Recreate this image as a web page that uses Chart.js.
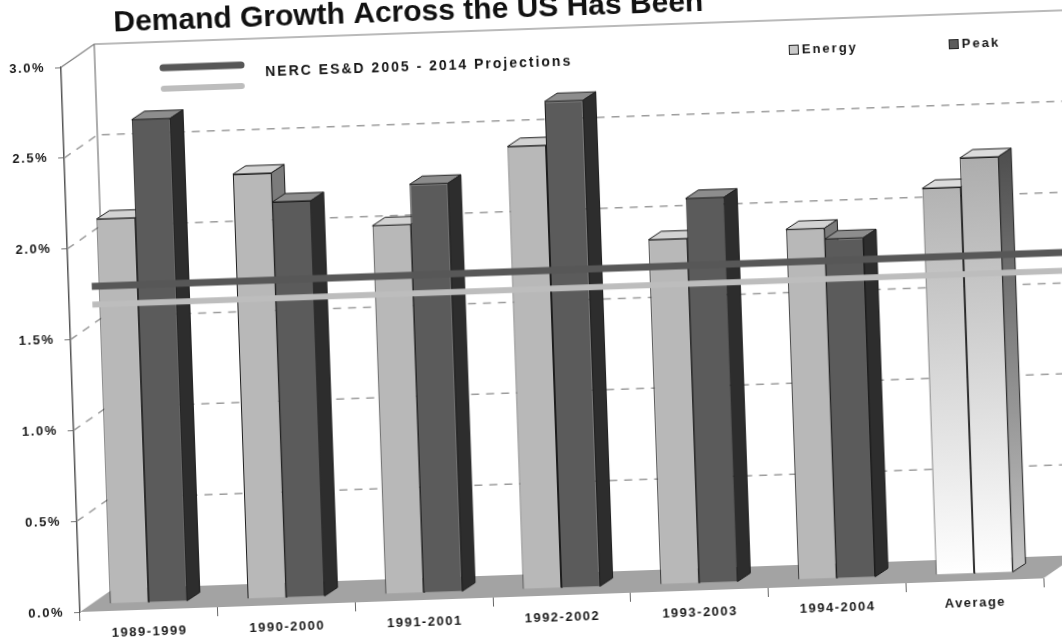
<!DOCTYPE html>
<html>
<head>
<meta charset="utf-8">
<title>Demand Growth</title>
<script src="https://cdn.jsdelivr.net/npm/chart.js@4.4.1/dist/chart.umd.min.js"></script>
<style>
  html, body { margin: 0; padding: 0; background: #fff; overflow: hidden; }
  body { width: 1062px; height: 641px; position: relative; }
  /* the scanned slide is slightly tilted */
  #tilt { position: absolute; left: 0; top: 0; width: 1100px; height: 660px;
          transform: rotate(-2deg); transform-origin: 80px 612px; }
</style>
</head>
<body>
<div id="tilt"><canvas id="chart" width="1100" height="660"></canvas></div>
<script>
const titleText = 'Demand Growth Across the US Has Been';
const projectionLabel = 'NERC ES&D 2005 - 2014 Projections';

const categories = ['1989-1999', '1990-2000', '1991-2001', '1992-2002', '1993-2003', '1994-2004', 'Average'];
const energyGrowth = [2.12, 2.34, 2.03, 2.44, 1.90, 1.93, 2.13];
const peakGrowth   = [2.66, 2.18, 2.25, 2.68, 2.12, 1.87, 2.29];

// projection lines run across the whole plot (x2 axis is 0..1 over the plot width)
const projectionSpan   = [0.024, 1.06];
const peakProjection   = [1.75, 1.75];
const energyProjection = [1.65, 1.65];

const yMin = 0, yMax = 3, yStep = 0.5;

const FONT = '"Liberation Sans", Arial, sans-serif';
const DEPTH_X = 13, DEPTH_Y = -8;   // bar extrusion
const WALL_X = 34, WALL_Y = -22;    // back wall offset
const SINK = 7;                     // bars stand a little behind the front edge

const faces = {
  Energy: { top: '#d3d3d3', side: '#7b7b7b', shift: -1 },
  Peak:   { top: '#8d8d8d', side: '#2d2d2d', shift: 1 }
};

function avgFill(chart, from, to) {
  const area = chart.chartArea;
  if (!area) return from;
  const g = chart.ctx.createLinearGradient(0, area.top + 110, 0, area.bottom);
  g.addColorStop(0, from);
  g.addColorStop(1, to);
  return g;
}

function barFill(solid) {
  return (c) => c.dataIndex === categories.length - 1 ? avgFill(c.chart, '#a9a9a9', '#ffffff') : solid;
}

const spacing = {
  id: 'spacing',
  beforeLayout(chart) { chart.ctx.letterSpacing = '1.5px'; },
  beforeDraw(chart) { chart.ctx.letterSpacing = '1.5px'; }
};

const room = {
  id: 'room',
  beforeDatasetsDraw(chart) {
    const { ctx, chartArea: { left, right, top, bottom }, scales: { y } } = chart;
    ctx.save();
    // floor
    ctx.fillStyle = '#a3a3a3';
    ctx.beginPath();
    ctx.moveTo(left, bottom);
    ctx.lineTo(right, bottom);
    ctx.lineTo(right + WALL_X, bottom + WALL_Y);
    ctx.lineTo(left + WALL_X, bottom + WALL_Y);
    ctx.closePath();
    ctx.fill();

    // dashed grid on the left and back walls
    ctx.strokeStyle = '#9c9c9c';
    ctx.lineWidth = 1.5;
    ctx.setLineDash([8, 7]);
    y.ticks.forEach(t => {
      if (t.value === yMin || t.value === yMax) return;
      const py = y.getPixelForValue(t.value);
      ctx.beginPath();
      ctx.moveTo(left, py);
      ctx.lineTo(left + WALL_X, py + WALL_Y);
      ctx.lineTo(chart.width, py + WALL_Y);
      ctx.stroke();
    });

    // box edges
    ctx.setLineDash([]);
    ctx.strokeStyle = '#777';
    ctx.lineWidth = 1.2;
    ctx.beginPath();
    ctx.moveTo(left, top);
    ctx.lineTo(left + WALL_X, top + WALL_Y);
    ctx.lineTo(chart.width, top + WALL_Y);
    ctx.moveTo(left + WALL_X, top + WALL_Y);
    ctx.lineTo(left + WALL_X, bottom + WALL_Y);
    ctx.stroke();
    ctx.restore();
  }
};

const bars3d = {
  id: 'bars3d',
  beforeDatasetDraw(chart, args) {
    const meta = args.meta;
    let sx = 0;
    if (meta.type === 'bar') {
      // energy sits left of the category centre, peak right of it
      sx = faces[chart.data.datasets[args.index].label].shift * meta.data[0].width / 2;
    }
    chart.ctx.save();
    chart.ctx.translate(sx, -SINK);
  },
  afterDatasetDraw(chart, args) {
    const ctx = chart.ctx;
    const meta = args.meta;
    if (meta.type === 'bar') {
      const f = faces[chart.data.datasets[args.index].label];
      meta.data.forEach((bar, i) => {
        const p = bar.getProps(['x', 'y', 'base', 'width'], true);
        const l = p.x - p.width / 2, r = p.x + p.width / 2;
        const isAvg = i === categories.length - 1;
        ctx.strokeStyle = '#1e1e1e';
        ctx.lineWidth = 1;
        // top face
        ctx.fillStyle = isAvg ? '#dcdcdc' : f.top;
        ctx.beginPath();
        ctx.moveTo(l, p.y);
        ctx.lineTo(r, p.y);
        ctx.lineTo(r + DEPTH_X, p.y + DEPTH_Y);
        ctx.lineTo(l + DEPTH_X, p.y + DEPTH_Y);
        ctx.closePath();
        ctx.fill();
        ctx.stroke();
        // side face
        ctx.fillStyle = isAvg ? avgFill(chart, '#4a4a4a', '#c4c4c4') : f.side;
        ctx.beginPath();
        ctx.moveTo(r, p.y);
        ctx.lineTo(r + DEPTH_X, p.y + DEPTH_Y);
        ctx.lineTo(r + DEPTH_X, p.base + DEPTH_Y);
        ctx.lineTo(r, p.base);
        ctx.closePath();
        ctx.fill();
        ctx.stroke();
      });
    }
    ctx.restore();
  }
};

const annotate = {
  id: 'annotate',
  afterDraw(chart) {
    const ctx = chart.ctx;
    const ds = chart.data.datasets;
    ctx.save();
    ctx.letterSpacing = '0px';
    ctx.fillStyle = '#111';
    ctx.textBaseline = 'alphabetic';
    ctx.font = 'bold 30px ' + FONT;
    ctx.fillText(titleText, 134, 33);

    // projection legend
    [[ds[2], 71], [ds[3], 92]].forEach(([d, y]) => {
      ctx.strokeStyle = d.borderColor;
      ctx.lineWidth = d.borderWidth;
      ctx.lineCap = 'round';
      ctx.beginPath();
      ctx.moveTo(182, y);
      ctx.lineTo(260, y);
      ctx.stroke();
    });
    ctx.letterSpacing = '2px';
    ctx.textBaseline = 'middle';
    ctx.font = 'bold 14px ' + FONT;
    ctx.fillStyle = '#151515';
    ctx.fillText(projectionLabel, 284, 79);

    // series legend
    ctx.font = 'bold 13px ' + FONT;
    [[ds[0], 808], [ds[1], 968]].forEach(([d, x]) => {
      ctx.fillStyle = d.label === 'Energy' ? '#c9c9c9' : '#5c5c5c';
      ctx.fillRect(x, 70, 10, 10);
      ctx.strokeStyle = '#222';
      ctx.lineWidth = 1;
      ctx.strokeRect(x + 0.5, 70.5, 9, 9);
      ctx.fillStyle = '#151515';
      ctx.fillText(d.label, x + 13, 75);
    });
    ctx.restore();
  }
};

const tickFont = { family: FONT, size: 13, weight: 'bold' };

new Chart(document.getElementById('chart'), {
  type: 'bar',
  data: {
    labels: categories,
    datasets: [
      {
        label: 'Energy',
        data: energyGrowth,
        xAxisID: 'x',
        order: 2,
        grouped: false,
        backgroundColor: barFill('#b8b8b8'),
        borderColor: '#1e1e1e',
        borderWidth: 1,
        categoryPercentage: 0.28,
        barPercentage: 1,
        clip: false
      },
      {
        label: 'Peak',
        data: peakGrowth,
        xAxisID: 'x',
        order: 1,
        grouped: false,
        backgroundColor: barFill('#5b5b5b'),
        borderColor: '#1e1e1e',
        borderWidth: 1,
        categoryPercentage: 0.28,
        barPercentage: 1,
        clip: false
      },
      {
        type: 'line',
        label: 'Peak projection',
        data: projectionSpan.map((x, i) => ({ x: x, y: peakProjection[i] })),
        xAxisID: 'x2',
        borderColor: '#575757',
        borderWidth: 7,
        borderCapStyle: 'butt',
        pointRadius: 0,
        order: 0,
        clip: false
      },
      {
        type: 'line',
        label: 'Energy projection',
        data: projectionSpan.map((x, i) => ({ x: x, y: energyProjection[i] })),
        xAxisID: 'x2',
        borderColor: '#bdbdbd',
        borderWidth: 6,
        borderCapStyle: 'butt',
        pointRadius: 0,
        order: 0,
        clip: false
      }
    ]
  },
  options: {
    responsive: false,
    animation: false,
    layout: { padding: { top: 67, right: 56, bottom: 0, left: 0 } },
    plugins: {
      legend: { display: false },
      tooltip: { enabled: false }
    },
    scales: {
      x: {
        type: 'category',
        offset: true,
        grid: { offset: true, drawOnChartArea: false, tickLength: 9, color: '#666' },
        border: { display: false },
        ticks: { font: tickFont, color: '#1a1a1a', padding: 6, maxRotation: 0 },
        afterFit: (s) => { s.height = 48; }
      },
      x2: { type: 'linear', display: false, offset: false, min: 0, max: 1 },
      y: {
        min: yMin,
        max: yMax,
        ticks: {
          stepSize: yStep,
          padding: 10,
          font: tickFont,
          color: '#1a1a1a',
          callback: (v) => v.toFixed(1) + '%'
        },
        grid: { drawOnChartArea: false, tickLength: 6, color: '#777' },
        border: { display: true, color: '#555', width: 1.5 },
        afterFit: (s) => { s.width = 80; }
      }
    }
  },
  plugins: [spacing, room, bars3d, annotate]
});
</script>
</body>
</html>
